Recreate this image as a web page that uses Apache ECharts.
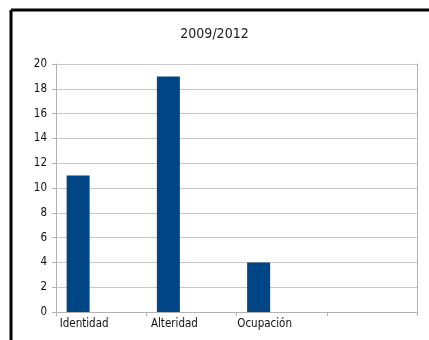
<!DOCTYPE html>
<html>
<head>
<meta charset="utf-8">
<script src="https://cdn.jsdelivr.net/npm/echarts@6/dist/echarts.min.js"></script>
<style>
html,body{margin:0;padding:0;background:#fff;}
#chart{width:429px;height:340px;}
</style>
</head>
<body>
<div id="chart"></div>
<script>
var categories = ['Identidad', 'Alteridad', 'Ocupación', ''];
var values = [11, 19, 4, null];
var emptySeries = [null, null, null, null];
var yTicks = { min: 0, max: 20, step: 2 };

var font = "'Liberation Sans Narrow', 'DejaVu Sans Condensed', sans-serif";
var chart = echarts.init(document.getElementById('chart'));

chart.setOption({
    animation: false,
    title: {
        text: '2009/2012',
        left: 'center',
        top: 22,
        textStyle: { fontFamily: font, fontSize: 14, fontWeight: 'normal', color: '#222' }
    },
    grid: { left: 56, right: 12, top: 64, bottom: 28 },
    graphic: [
        { type: 'line', shape: { x1: 11, y1: 10, x2: 429, y2: 10 }, style: { stroke: '#000', lineWidth: 3 } },
        { type: 'line', shape: { x1: 11, y1: 10, x2: 11, y2: 340 }, style: { stroke: '#000', lineWidth: 3 } }
    ],
    xAxis: {
        type: 'category',
        data: categories,
        axisLine: { lineStyle: { color: '#b3b3b3' } },
        axisTick: { show: true, length: 4, lineStyle: { color: '#b3b3b3' } },
        axisLabel: { fontFamily: font, fontSize: 11.5, color: '#111', margin: 6, padding: [0, 34, 0, 0] },
        splitLine: { show: false }
    },
    yAxis: [{
        type: 'value',
        min: yTicks.min,
        max: yTicks.max,
        interval: yTicks.step,
        axisLine: { show: true, lineStyle: { color: '#b3b3b3' } },
        axisTick: { show: true, length: 4, lineStyle: { color: '#b3b3b3' } },
        axisLabel: { fontFamily: font, fontSize: 11.5, color: '#111', margin: 9 },
        splitLine: { lineStyle: { color: '#c8c8c8' } }
    }, {
        type: 'value',
        position: 'right',
        min: yTicks.min,
        max: yTicks.max,
        interval: yTicks.step,
        axisLine: { show: true, lineStyle: { color: '#b3b3b3' } },
        axisTick: { show: false },
        axisLabel: { show: false },
        splitLine: { show: false }
    }],
    series: [
        { type: 'bar', data: values, barWidth: 23, barGap: '0%', itemStyle: { color: '#004586' } },
        { type: 'bar', data: emptySeries, barWidth: 23, barGap: '0%', itemStyle: { color: '#ff420e' } },
        { type: 'bar', data: emptySeries, barWidth: 23, barGap: '0%', itemStyle: { color: '#ffd320' } }
    ]
});
</script>
</body>
</html>
